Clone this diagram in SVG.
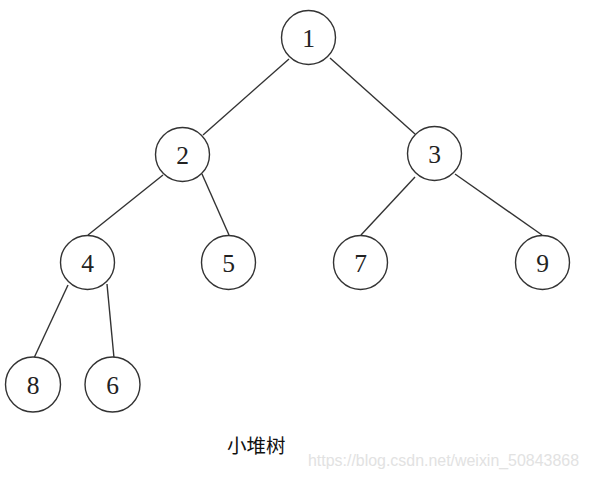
<svg xmlns="http://www.w3.org/2000/svg" width="589" height="479" viewBox="0 0 589 479">
<style>
.n circle{fill:#fff;stroke:#333;stroke-width:1.4}
.n text{font-family:"Liberation Serif","DejaVu Serif",serif;font-size:25.5px;fill:#222;text-anchor:middle;dominant-baseline:central}
#edges line{stroke:#333;stroke-width:1.4}
</style>
<rect width="589" height="479" fill="#fff"/>
<g id="edges">
<line x1="289" y1="59" x2="203" y2="135"/>
<line x1="330" y1="58" x2="415" y2="134"/>
<line x1="163" y1="175" x2="88" y2="235"/>
<line x1="202" y1="174" x2="229" y2="235"/>
<line x1="415" y1="177" x2="361" y2="235"/>
<line x1="455" y1="174" x2="542" y2="235"/>
<line x1="68" y1="285" x2="34" y2="358"/>
<line x1="107" y1="284" x2="114" y2="358"/>
</g>
<g id="n1" class="n"><circle cx="308.5" cy="37.5" r="27"/><text x="308.5" y="38.5">1</text></g>
<g id="n2" class="n"><circle cx="182.5" cy="154.5" r="27"/><text x="182.5" y="155.5">2</text></g>
<g id="n3" class="n"><circle cx="434.5" cy="153.5" r="27"/><text x="434.5" y="154.5">3</text></g>
<g id="n4" class="n"><circle cx="87.5" cy="262.5" r="27"/><text x="87.5" y="263.5">4</text></g>
<g id="n5" class="n"><circle cx="228.5" cy="262.5" r="27"/><text x="228.5" y="263.5">5</text></g>
<g id="n7" class="n"><circle cx="360.5" cy="262.5" r="27"/><text x="360.5" y="263.5">7</text></g>
<g id="n9" class="n"><circle cx="542.5" cy="262.5" r="27"/><text x="542.5" y="263.5">9</text></g>
<g id="n8" class="n"><circle cx="33" cy="384.5" r="27.5"/><text x="33" y="385.5">8</text></g>
<g id="n6" class="n"><circle cx="112.5" cy="384.5" r="27.5"/><text x="112.5" y="385.5">6</text></g>
<text x="227" y="453" font-family="'Noto Sans CJK SC',sans-serif" font-size="19.5" fill="#111">小堆树</text>
<text x="308" y="465.5" font-family="'Liberation Sans',Arial,sans-serif" font-size="16.5" fill="#e2e2e2" textLength="271" lengthAdjust="spacingAndGlyphs">https://blog.csdn.net/weixin_50843868</text>
</svg>
